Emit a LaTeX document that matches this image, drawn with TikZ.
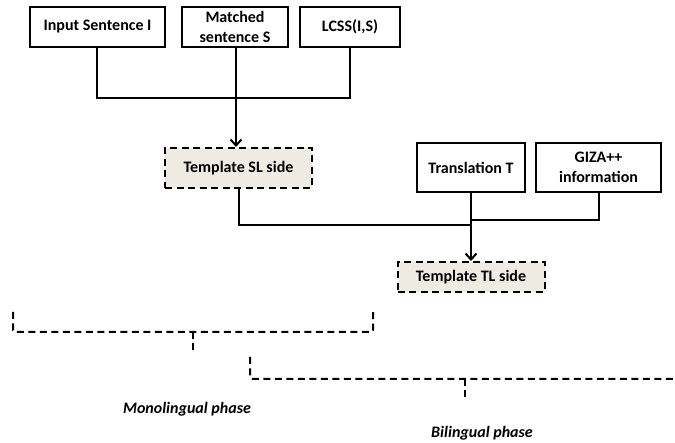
\documentclass[tikz,border=0pt]{standalone}
\usepackage{fontspec}
\setmainfont{Carlito}
\usetikzlibrary{arrows.meta}
\definecolor{tmplfill}{HTML}{EEEBE2}
\tikzset{
  x=1pt, y=-1pt,
  box/.style={draw, line width=2pt, rectangle, inner sep=0pt, align=center,
    font=\fontsize{16}{19.5}\selectfont\bfseries},
  tmpl/.style={box, fill=tmplfill, dashed, dash pattern=on 7pt off 4.5pt},
  link/.style={line width=2pt},
  feed/.style={link, -{Straight Barb[length=6pt,width=11pt,line width=2pt]}},
  brace/.style={line width=2pt, dash pattern=on 7pt off 4.5pt, rounded corners=2pt},
  phase/.style={font=\fontsize{16}{19.5}\selectfont\bfseries\itshape}
}
\begin{document}
\begin{tikzpicture}
\useasboundingbox (0,0) rectangle (675,443);
% source-language inputs
\node[box, minimum width=135pt, minimum height=40pt] (in)   at (97.5,27) {Input Sentence I};
\node[box, minimum width=106pt, minimum height=40pt] (ms)   at (235,27)  {Matched\\sentence S};
\node[box, minimum width=100pt, minimum height=40pt] (lcss) at (350,27)  {LCSS(I,S)};
\node[tmpl, minimum width=147pt, minimum height=40pt] (sl)  at (238.5,168) {Template SL side};
% target-language inputs
\node[box, minimum width=108pt, minimum height=49pt] (tr)   at (471,167.5) {Translation T};
\node[box, minimum width=125pt, minimum height=49pt] (giza) at (598.5,167.5) {GIZA++\\information};
\node[tmpl, minimum width=147pt, minimum height=30pt] (tl)  at (471,277) {Template TL side};
% joins
\coordinate (j1) at (236,98);
\coordinate (j2) at (471,225);
\coordinate (j3) at (471,220);
\draw[link] (in.south -| 97,0) |- (j1) -| (lcss.south);
\draw[link] (ms.south -| j1) -- (j1);
\draw[feed] (j1) -- (j1 |- sl.north);
\draw[link] (sl.south) |- (j2);
\draw[link] (tr.south) -- (j2);
\draw[link] (giza.south) |- (j3);
\draw[feed] (j2) -- (tl.north);
% phase braces
\coordinate (m1) at (13,312);  \coordinate (m2) at (373,312);
\coordinate (mt) at (193,332); \coordinate (mb) at (193,351);
\draw[brace] (m1) |- (mt) -| (m2);
\draw[brace, rounded corners=0pt] (mt) -- (mb);
\coordinate (b1) at (250,357); \coordinate (b2) at (676,379);
\coordinate (bt) at (465,379); \coordinate (bb) at (465,402);
\draw[brace] (b1) |- (b2);
\draw[brace, rounded corners=0pt] (bt) -- (bb);
\node[phase] (mono) at (187,409) {Monolingual phase};
\node[phase] (bili) at (482,433) {Bilingual phase};
\end{tikzpicture}
\end{document}
